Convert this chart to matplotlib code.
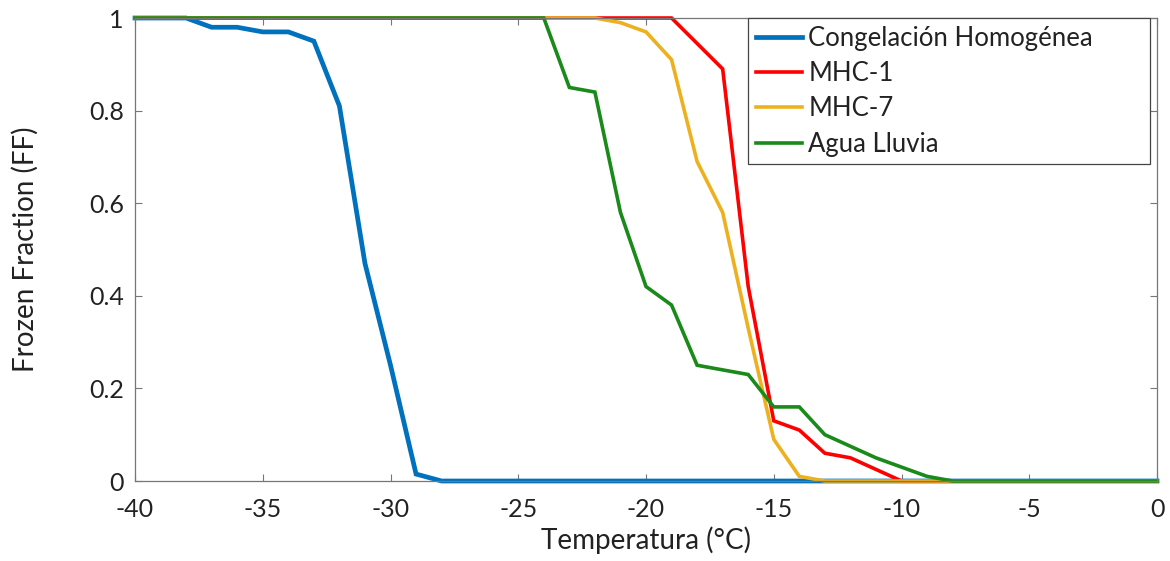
import numpy as np
import matplotlib
matplotlib.use("Agg")
import matplotlib.pyplot as plt

plt.rcParams["font.family"] = ["Lato", "DejaVu Sans"]
plt.rcParams["axes.unicode_minus"] = False

# Temperature steps (°C)
temps = list(range(-40, 1))

# Frozen fraction per series, one value per degree from -40 to 0
homogenea = [1, 1, 1, 0.98, 0.98, 0.97, 0.97, 0.95, 0.81, 0.47, 0.25, 0.015,
             0, 0, 0, 0, 0, 0, 0, 0, 0, 0, 0, 0, 0, 0, 0, 0, 0, 0,
             0, 0, 0, 0, 0, 0, 0, 0, 0, 0, 0]
mhc1 = [1, 1, 1, 1, 1, 1, 1, 1, 1, 1, 1, 1, 1, 1, 1, 1, 1, 1, 1, 1, 1, 1,
        0.945, 0.89, 0.42, 0.13, 0.11, 0.06, 0.05, 0.025, 0,
        0, 0, 0, 0, 0, 0, 0, 0, 0, 0]
mhc7 = [1, 1, 1, 1, 1, 1, 1, 1, 1, 1, 1, 1, 1, 1, 1, 1, 1, 1, 1, 0.99, 0.97,
        0.91, 0.69, 0.58, 0.33, 0.09, 0.01, 0,
        0, 0, 0, 0, 0, 0, 0, 0, 0, 0, 0, 0, 0]
agua_lluvia = [1, 1, 1, 1, 1, 1, 1, 1, 1, 1, 1, 1, 1, 1, 1, 1,
               1, 0.85, 0.84, 0.58, 0.42, 0.38, 0.25, 0.24, 0.23, 0.16, 0.16,
               0.10, 0.075, 0.05, 0.03, 0.01, 0,
               0, 0, 0, 0, 0, 0, 0, 0]

labels = ["Congelación Homogénea", "MHC-1", "MHC-7", "Agua Lluvia"]
colors = ["#0072BD", "#FF0000", "#EDB120", "#1A8A1A"]
widths = [3.4, 2.6, 2.6, 2.6]

fig = plt.figure(figsize=(11.7, 5.61), dpi=100)
ax = fig.add_axes([0.1154, 0.1426, 0.8735, 0.8253])

for ys, lab, c, lw in zip([homogenea, mhc1, mhc7, agua_lluvia], labels, colors, widths):
    ax.plot(temps, ys, color=c, lw=lw, label=lab, clip_on=False, solid_joinstyle="miter")

ax.set_xlim(-40, 0)
ax.set_ylim(0, 1)
ax.set_xticks(range(-40, 1, 5))
ax.set_yticks([0, 0.2, 0.4, 0.6, 0.8, 1])
ax.set_yticklabels(["0", "0.2", "0.4", "0.6", "0.8", "1"])
ax.tick_params(direction="in", top=True, right=True, length=5, width=0.8,
               color="#777777", labelsize=18, labelcolor="#222222")
ax.tick_params(axis="x", pad=12)
ax.tick_params(axis="y", pad=8)
for s in ax.spines.values():
    s.set_color("#777777")
    s.set_linewidth(0.9)

ax.set_xlabel("Temperatura (°C)", fontsize=20, color="#222222", labelpad=4)
ax.set_ylabel("Frozen Fraction (FF)", fontsize=20, color="#222222", labelpad=36)

# legend box stretched to the width it has in the original (extra room on the right)
leg = ax.legend(loc="upper left", bbox_to_anchor=(0.5998, 0.68, 0.3933, 0.32),
                mode="expand", borderaxespad=0,
                fontsize=18.5, frameon=True, fancybox=False, framealpha=1,
                edgecolor="#444444", handlelength=1.8, handletextpad=0.25,
                labelspacing=0.4, borderpad=0.3)
leg.get_frame().set_linewidth(0.9)
for t in leg.get_texts():
    t.set_color("#222222")

fig.savefig("out.png", dpi=100)
